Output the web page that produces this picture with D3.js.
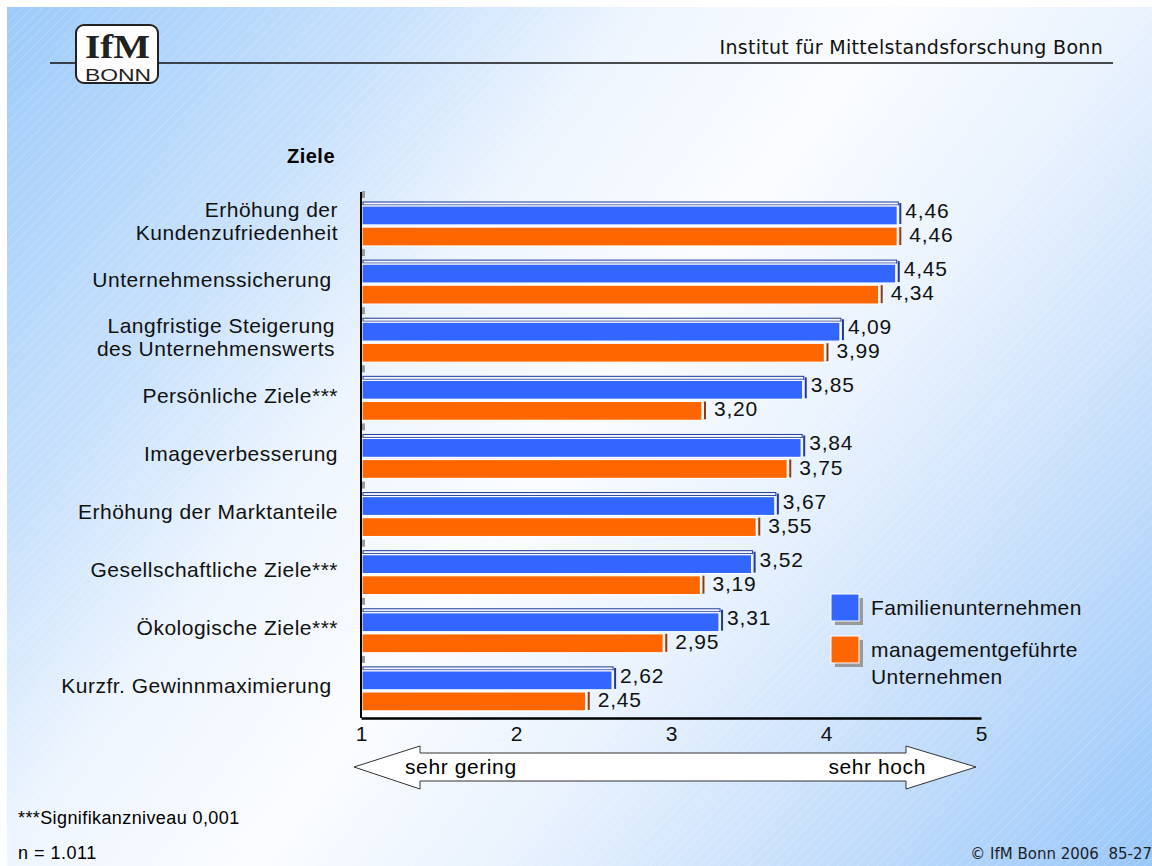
<!DOCTYPE html>
<html>
<head>
<meta charset="utf-8">
<script src="https://cdn.jsdelivr.net/npm/d3@7"></script>
<style>
  body { margin: 0; padding: 0; background: #fff; }
  svg text { font-family: "Liberation Sans", Arial, sans-serif; white-space: pre; }
</style>
</head>
<body>
<div id="chart"></div>
<script>
// categories (| = line break) and the two series
var categories = ["Erhöhung der|Kundenzufriedenheit", "Unternehmenssicherung ", "Langfristige Steigerung|des Unternehmenswerts",
    "Persönliche Ziele***", "Imageverbesserung", "Erhöhung der Marktanteile",
    "Gesellschaftliche Ziele***", "Ökologische Ziele***", "Kurzfr. Gewinnmaximierung "];
var familyValues = [4.46, 4.45, 4.09, 3.85, 3.84, 3.67, 3.52, 3.31, 2.62];
var managedValues = [4.46, 4.34, 3.99, 3.20, 3.75, 3.55, 3.19, 2.95, 2.45];
var seriesNames = ["Familienunternehmen", "managementgeführte|Unternehmen"];
var xTicks = [1, 2, 3, 4, 5];

var width = 1152, height = 866;
var colors = ["#3366ff", "#ff6600"];
var edgeColors = ["#1f3a9a", "#8a3c14"];

var svg = d3.select("#chart").append("svg")
    .attr("width", width)
    .attr("height", height);

// the original lettering is a bit wider than plain Arial
function wide(sel, size, spacing) {
    sel.style("font-size", size + "px").style("letter-spacing", spacing + "px");
}

// background: diagonal gradient + faint hatch
var defs = svg.append("defs");
var grad = defs.append("linearGradient")
    .attr("id", "bg")
    .attr("gradientUnits", "userSpaceOnUse")
    .attr("x1", 0).attr("y1", 0).attr("x2", width).attr("y2", height);
[[0, "#9ccafa"], [0.22, "#c6e0fc"], [0.36, "#eef5fe"], [0.5, "#fafcff"], [0.64, "#e9f2fe"], [0.82, "#c3ddfb"], [1, "#98c7fa"]]
    .forEach(function(s) { grad.append("stop").attr("offset", s[0]).attr("stop-color", s[1]); });

var hatch = defs.append("pattern")
    .attr("id", "hatch")
    .attr("patternUnits", "userSpaceOnUse")
    .attr("width", 7).attr("height", 7)
    .attr("patternTransform", "rotate(45)");
hatch.append("line")
    .attr("x1", 0).attr("y1", 0).attr("x2", 0).attr("y2", 7)
    .style("stroke", "#fff").style("stroke-width", 1).style("stroke-opacity", 0.35);

svg.append("rect").attr("x", 7).attr("y", 7).attr("width", width - 7).attr("height", height - 7).attr("fill", "url(#bg)");
svg.append("rect").attr("x", 7).attr("y", 7).attr("width", width - 7).attr("height", height - 7).attr("fill", "url(#hatch)");

// header
svg.append("line")
    .attr("x1", 50).attr("x2", 1113).attr("y1", 63).attr("y2", 63)
    .style("stroke", "#111").style("stroke-width", 1.5);
svg.append("text")
    .attr("x", 1103).attr("y", 54)
    .attr("text-anchor", "end")
    .style("font-family", "'DejaVu Sans', Verdana, sans-serif")
    .style("font-size", "19px")
    .style("letter-spacing", "0.3px")
    .style("fill", "#111")
    .text("Institut für Mittelstandsforschung Bonn");

var logo = svg.append("g");
logo.append("rect")
    .attr("x", 76).attr("y", 25).attr("width", 82).attr("height", 58).attr("rx", 8)
    .style("fill", "#fff").style("stroke", "#222").style("stroke-width", 2);
logo.append("text")
    .attr("x", 85).attr("y", 58)
    .attr("textLength", 65)
    .attr("lengthAdjust", "spacingAndGlyphs")
    .style("font-family", "'Liberation Serif', 'Times New Roman', serif")
    .style("font-weight", "bold")
    .style("font-size", "34px")
    .style("fill", "#222")
    .text("IfM");
logo.append("text")
    .attr("x", 85).attr("y", 81)
    .attr("textLength", 66)
    .attr("lengthAdjust", "spacingAndGlyphs")
    .style("font-size", "17px")
    .style("fill", "#222")
    .text("BONN");

// scales
var x = d3.scaleLinear().domain([1, 5]).range([361, 981]);
var y = d3.scaleBand().domain(categories).range([195, 718]);
var sub = d3.scaleBand().domain([0, 1]).range([11, 51]).paddingInner(0.1);

var fmt = function(v) { return d3.format(".2f")(v).replace(".", ","); };

svg.append("text")
    .attr("x", 335).attr("y", 163)
    .attr("text-anchor", "end")
    .style("font-weight", "bold")
    .call(wide, 20, 0.5)
    .text("Ziele");

// bars
var rows = categories.map(function(c, i) {
    return {cat: c, values: [familyValues[i], managedValues[i]]};
});

var groups = svg.selectAll("g.row")
    .data(rows)
    .enter()
    .append("g")
    .attr("class", "row")
    .attr("transform", function(d) { return "translate(0," + y(d.cat) + ")"; });

// small gray marks on the left axis
groups.append("rect")
    .attr("x", 362).attr("y", -4).attr("width", 3).attr("height", 7)
    .style("fill", "#9a9a9a");

var bars = groups.selectAll("g.bar")
    .data(function(d) { return d.values.map(function(v, k) { return {v: v, k: k}; }); })
    .enter()
    .append("g")
    .attr("class", "bar");

// top face of the blue bar
bars.filter(function(d) { return d.k === 0; })
    .append("rect")
    .attr("x", x(1) + 2)
    .attr("y", sub(0) - 4)
    .attr("width", function(d) { return x(d.v) - x(1) - 1; })
    .attr("height", 3)
    .style("fill", "#f2f6ff")
    .style("stroke", edgeColors[0])
    .style("stroke-width", 1);

bars.append("rect")
    .attr("x", x(1) + 1)
    .attr("y", function(d) { return sub(d.k); })
    .attr("width", function(d) { return x(d.v) - x(1) - 1; })
    .attr("height", sub.bandwidth())
    .style("fill", function(d) { return colors[d.k]; })
    .style("stroke", "#fff")
    .style("stroke-width", 1.2);

// side edge
bars.append("line")
    .attr("x1", function(d) { return x(d.v) + 3; })
    .attr("x2", function(d) { return x(d.v) + 3; })
    .attr("y1", function(d) { return sub(d.k) - (d.k === 0 ? 3 : 0); })
    .attr("y2", function(d) { return sub(d.k) + sub.bandwidth() - 1; })
    .style("stroke", function(d) { return edgeColors[d.k]; })
    .style("stroke-width", 2);

bars.append("text")
    .attr("x", function(d) { return x(d.v) + (d.k === 0 ? 8 : 12); })
    .attr("y", function(d) { return sub(d.k) + sub.bandwidth() / 2 + (d.k === 0 ? -5 : -2); })
    .attr("dy", "0.36em")
    .call(wide, 21, 0.8)
    .style("fill", "#111")
    .text(function(d) { return fmt(d.v); });

// category labels
groups.append("text")
    .attr("text-anchor", "end")
    .call(wide, 21, 0.5)
    .style("fill", "#111")
    .each(function(d) {
        var lines = d.cat.split("|");
        var t = d3.select(this);
        lines.forEach(function(l, i) {
            t.append("tspan")
                .attr("x", lines.length > 1 && d.cat.indexOf("Langfristige") === 0 ? 335 : 338)
                .attr("y", y.bandwidth() / 2 - 3 + (i - (lines.length - 1) / 2) * 23)
                .attr("dy", "0.36em")
                .text(l);
        });
    });

// axes
svg.append("line")
    .attr("x1", x(1)).attr("x2", x(1)).attr("y1", 192).attr("y2", 718)
    .style("stroke", "#000").style("stroke-width", 2);

var xAxis = svg.append("g")
    .attr("transform", "translate(0,718)")
    .call(d3.axisBottom(x).tickValues(xTicks).tickSize(0).tickPadding(8).tickFormat(d3.format("d")));
xAxis.select(".domain").style("stroke", "#000").style("stroke-width", 2.5);
xAxis.selectAll("text")
    .style("font-family", "'Liberation Sans', Arial, sans-serif")
    .call(wide, 21, 0)
    .style("fill", "#111");

// double arrow under the axis
var ax0 = x(1) - 7, ax1 = x(5) - 5;
var arrowPts = [
    [ax0, 767], [ax0 + 66, 746], [ax0 + 66, 753], [ax1 - 70, 753], [ax1 - 70, 746], [ax1, 767],
    [ax1 - 70, 789], [ax1 - 70, 781], [ax0 + 66, 781], [ax0 + 66, 789]
];
svg.append("polygon")
    .attr("points", arrowPts.map(function(p) { return p.join(","); }).join(" "))
    .style("fill", "#fff")
    .style("stroke", "#333")
    .style("stroke-width", 1);
svg.append("text")
    .attr("x", 405).attr("y", 774)
    .call(wide, 21, 0.6)
    .text("sehr gering");
svg.append("text")
    .attr("x", 926).attr("y", 774)
    .attr("text-anchor", "end")
    .call(wide, 21, 0.6)
    .text("sehr hoch");

// legend
var legend = svg.selectAll("g.legend")
    .data(seriesNames)
    .enter()
    .append("g")
    .attr("class", "legend")
    .attr("transform", function(d, i) { return "translate(831," + (594 + i * 42) + ")"; });
legend.append("rect")
    .attr("x", 4).attr("y", 4).attr("width", 28).attr("height", 27)
    .style("fill", "#9a9a9a");
legend.append("rect")
    .attr("width", 28).attr("height", 27)
    .style("fill", function(d, i) { return colors[i]; })
    .style("stroke", "#fff")
    .style("stroke-width", 1);
legend.append("text")
    .call(wide, 21, 0.4)
    .style("fill", "#111")
    .each(function(d) {
        var t = d3.select(this);
        d.split("|").forEach(function(l, i) {
            t.append("tspan").attr("x", 40).attr("y", 13 + i * 27).attr("dy", "0.36em").text(l);
        });
    });

// footnotes
svg.append("text")
    .attr("x", 18).attr("y", 824)
    .call(wide, 18, 0.4)
    .text("***Signifikanzniveau 0,001");
svg.append("text")
    .attr("x", 18).attr("y", 859)
    .call(wide, 18, 0.5)
    .text("n = 1.011");
svg.append("text")
    .attr("x", 1152).attr("y", 859)
    .attr("text-anchor", "end")
    .style("font-family", "'DejaVu Sans', Verdana, sans-serif")
    .style("font-size", "15px")
    .style("fill", "#222")
    .text("© IfM Bonn 2006  85-27");
</script>
</body>
</html>
